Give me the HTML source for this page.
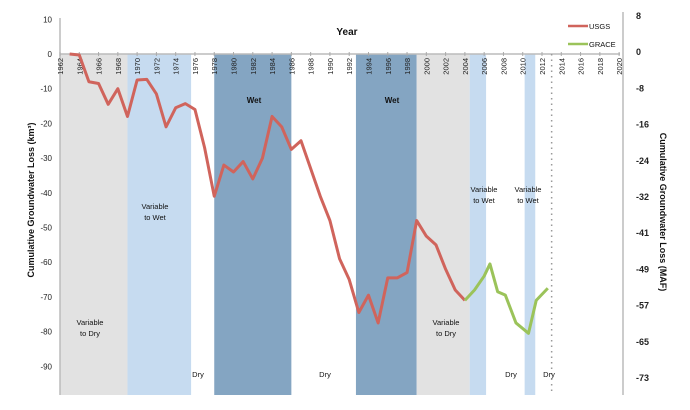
<!DOCTYPE html>
<html><head><meta charset="utf-8"><style>
body{margin:0;background:#fff}
svg{font-family:"Liberation Sans",sans-serif;display:block}
</style></head><body>
<svg id="c" width="690" height="410"></svg>
<script>
const usgsYears=[1963,1964,1965,1966,1967,1968,1969,1970,1971,1972,1973,1974,1975,1976,1977,1978,1979,1980,1981,1982,1983,1984,1985,1986,1987,1988,1989,1990,1991,1992,1993,1994,1995,1996,1997,1998,1999,2000,2001,2002,2003,2004];
const usgsValues=[0,-0.3,-8,-8.5,-14.5,-10,-18,-7.5,-7.3,-11.5,-21,-15.5,-14.3,-16,-27,-41,-32,-34,-31,-36,-30,-18,-21,-27.5,-25,-33,-41,-48,-59,-65,-74.5,-69.5,-77.5,-64.5,-64.5,-63,-48,-52.5,-55,-62,-68,-71];
const graceYears=[2004,2005,2006,2006.6,2007.4,2008.2,2009.3,2010.6,2011.4,2012.6];
const graceValues=[-71,-68,-64,-60.5,-68.5,-69.5,-77.5,-80.5,-71,-67.5];
const leftTicks=[10,0,-10,-20,-30,-40,-50,-60,-70,-80,-90];
const rightTicks=["8","0","-8","-16","-24","-32","-41","-49","-57","-65","-73"];
const xTicks=[1962,1964,1966,1968,1970,1972,1974,1976,1978,1980,1982,1984,1986,1988,1990,1992,1994,1996,1998,2000,2002,2004,2006,2008,2010,2012,2014,2016,2018,2020];
const bandStart=[1962,1969,1978,1992.7,1999,2004.5,2010.2];
const bandEnd=[1969,1975.6,1986,1999,2004.5,2006.2,2011.3];
const bandColor=["#e2e2e2","#c6dbf0","#84a5c2","#84a5c2","#e2e2e2","#c6dbf0","#c6dbf0"];

const X=y=>60+(y-1962)*9.64;
const Y=v=>54-v*3.47;
const s=document.getElementById('c');
const NS='http://www.w3.org/2000/svg';
function mk(t,a,p){const e=document.createElementNS(NS,t);for(const k in a)e.setAttribute(k,a[k]);(p||s).appendChild(e);return e;}

bandStart.forEach((b,i)=>{
 const r=mk('rect',{x:X(b),y:54,width:X(bandEnd[i])-X(b),height:341,fill:bandColor[i]});
 
 
});
// axes
mk('line',{x1:60,y1:18,x2:60,y2:395,stroke:'#bbb','stroke-width':1.5});
mk('line',{x1:623,y1:12,x2:623,y2:395,stroke:'#bbb','stroke-width':1.5});
mk('line',{x1:60,y1:54,x2:620,y2:54,stroke:'#bbb','stroke-width':1.5});
mk('line',{x1:X(2013),y1:54,x2:X(2013),y2:392,stroke:'#999','stroke-width':1.5,'stroke-dasharray':'1.5,4'});
leftTicks.forEach(v=>{
 const t=mk('text',{x:52,y:Y(v)+3,'font-size':8,'text-anchor':'end',fill:'#222'});t.textContent=v;
 
 
});
rightTicks.forEach((v,i)=>{
 const t=mk('text',{x:636,y:15+i*36.2+4,'font-size':9,'font-weight':'bold','text-anchor':'start',fill:'#222'});t.textContent=v;
 
 
});
xTicks.forEach(v=>{
 mk('line',{x1:X(v),y1:52,x2:X(v),y2:56,stroke:'#aaa'});
 const t=mk('text',{x:X(v)+3,y:58,'font-size':7.5,'text-anchor':'end',fill:'#222',transform:`rotate(-90 ${X(v)+3} 58)`});t.textContent=v;
 
 
});
const u=mk('polyline',{points:usgsYears.map((y,i)=>X(y)+','+Y(usgsValues[i])).join(' '),fill:'none',stroke:'#d0645c','stroke-width':3,'stroke-linejoin':'round'});


const g=mk('polyline',{points:graceYears.map((y,i)=>X(y)+','+Y(graceValues[i])).join(' '),fill:'none',stroke:'#9bc35a','stroke-width':3,'stroke-linejoin':'round'});



function txt(x,y,str,sz,bold,name,anchor){const t=mk('text',{x:x,y:y,'font-size':sz,'font-weight':bold?'bold':'normal','text-anchor':anchor||'middle',fill:'#111'});t.textContent=str;
 
 return t;}
txt(347,35,'Year',10,true,'x-axis-title');
txt(254,103,'Wet',8,true,'band-label-wet');
txt(392,103,'Wet',8,true,'band-label-wet');
[[155,209],[484,192],[528,192]].forEach(p=>{txt(p[0],p[1],'Variable',7.5,false,'band-label');txt(p[0],p[1]+11,'to Wet',7.5,false,'band-label');});
[[90,325],[446,325]].forEach(p=>{txt(p[0],p[1],'Variable',7.5,false,'band-label');txt(p[0],p[1]+11,'to Dry',7.5,false,'band-label');});
[198,325,511,549].forEach(x=>txt(x,377,'Dry',7.5,false,'band-label-dry'));
// legend
mk('line',{x1:568,y1:26,x2:588,y2:26,stroke:'#d0645c','stroke-width':2.5});
txt(589,29,'USGS',7.5,false,'legend-usgs','start');
mk('line',{x1:568,y1:44,x2:588,y2:44,stroke:'#9bc35a','stroke-width':2.5});
txt(589,47,'GRACE',7.5,false,'legend-grace','start');
const lt=txt(0,0,'Cumulative Groundwater Loss (km³)',9,true,'left-axis-title');lt.setAttribute('transform','translate(34,200) rotate(-90)');
const rt=txt(0,0,'Cumulative Groundwater Loss (MAF)',9,true,'right-axis-title');rt.setAttribute('transform','translate(660,212) rotate(90)');
</script>
</body></html>
